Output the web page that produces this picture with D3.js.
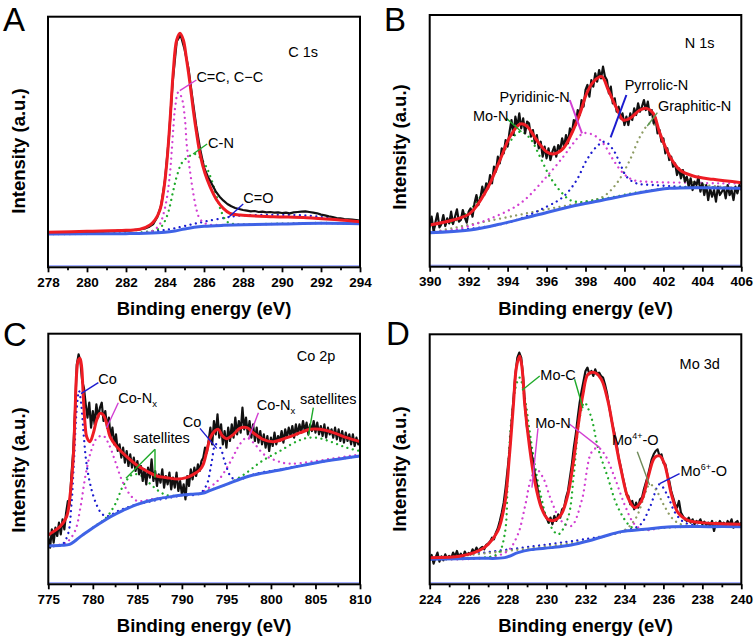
<!DOCTYPE html>
<html><head><meta charset="utf-8">
<script src="https://cdn.jsdelivr.net/npm/d3@7"></script>
<style>html,body{margin:0;padding:0;background:#fff}svg{display:block}</style>
</head><body>
<svg id="chart" width="756" height="642"></svg>
<script>
// ---------------- DATA ----------------
// Panel A : C 1s
const ticksA = [278,280,282,284,286,288,290,292,294];
const minorA = [279,281,283,285,287,289,291,293];
const rawA_start = 278, rawA_step = 0.2;
const rawA = [103,104,103,105,104,105,104,106,105,106,
106,107,106,108,107,108,109,108,110,109,
110,111,112,113,115,117,122,130,150,185,
262,390,560,678,697,655,598,510,425,355,
300,272,250,228,212,200,190,183,178,175,
172,170,168,169,166,167,165,166,164,165,
163,164,162,165,166,167,168,166,164,162,
158,156,153,151,148,147,145,144,143,142,140];
const fitA = [[278,105],[280,108],[282,111],[282.72,114],[283.23,127],[283.49,142],[283.74,172],[283.91,222],[284.09,312],[284.26,442],[284.43,592],[284.6,682],[284.77,702],[284.94,682],[285.11,622],[285.28,552],[285.45,472],[285.62,402],[285.79,342],[286.05,282],[286.31,242],[286.65,202],[286.99,177],[287.33,162],[287.85,157],[289.55,152],[291.27,149],[292.97,142],[294,137]];
const baseA = [[278,100],[282,101],[283,102],[284,105],[284.5,109],[285,115],[285.5,120],[286,123],[287,126],[288,128],[290,130],[292,132],[294,131]];
const compA_CC = [[278,100],[282,101],[283,104],[283.4,110],[283.74,130],[283.91,158],[284.09,205],[284.26,285],[284.34,345],[284.43,420],[284.51,475],[284.68,525],[284.85,510],[285.03,440],[285.11,370],[285.28,290],[285.45,222],[285.62,172],[285.79,145],[286.13,130],[287,127],[288,128],[290,130],[292,132],[294,131]];
const compA_CN = [[278,100],[282,102],[283,106],[283.74,118],[284.09,152],[284.43,232],[284.6,272],[284.85,312],[285.2,332],[285.54,340],[285.79,330],[286.13,300],[286.39,262],[286.65,212],[286.9,165],[287.16,138],[287.5,130],[288,129],[290,131],[292,133],[294,131]];
const compA_CO = [[278,100],[282,101],[282.7,103],[283.7,110],[284.4,116],[285.3,128],[286.1,138],[287.2,150],[287.8,155],[289.5,157],[291.3,155],[293,143],[294,137]];

// Panel B : N 1s
const ticksB = [390,392,394,396,398,400,402,404,406];
const minorB = [391,393,395,397,399,401,403,405];
const rawB_start = 390, rawB_step = 0.1;
const rawB = [120,150,105,135,160,118,128,155,122,145,130,
165,128,150,172,135,140,170,148,132,165,
175,150,190,215,185,205,240,215,250,235,
275,250,300,285,330,310,355,340,380,360,
405,440,395,450,420,460,415,445,400,435,
430,390,410,370,395,355,375,330,360,325,
355,320,345,360,330,365,350,385,360,395,
370,415,400,440,425,470,455,500,480,530,
545,510,560,540,580,555,590,565,600,570,
560,520,540,490,505,465,480,445,460,425,
450,425,460,440,475,455,490,465,480,500,
470,495,455,470,430,445,400,410,375,385,
340,355,320,330,300,310,275,295,265,290,
255,270,240,265,230,255,245,270,225,250,
215,245,200,235,210,230,195,240,215,225,
235,205,245,215,230,200,240,220,245,230];
const fitB = [[390,125],[391.2,140],[392.07,160],[392.92,230],[393.61,320],[394.12,390],[394.65,428],[394.98,422],[395.49,380],[396.0,345],[396.35,338],[396.86,355],[397.37,410],[397.72,460],[398.06,520],[398.41,555],[398.83,570],[399.17,530],[399.6,475],[399.94,440],[400.28,445],[400.8,470],[401.14,475],[401.48,460],[401.82,400],[402.34,330],[402.85,290],[403.53,272],[404.56,262],[406,252]];
const baseB = [[390,102],[392.07,110],[393.78,130],[395.49,155],[397.2,180],[398.91,200],[400.62,220],[402.33,235],[404.05,237],[406,235]];
const compB_MoN = [[390,118],[391.2,135],[392.07,170],[392.92,240],[393.6,320],[394.12,375],[394.65,405],[395.15,385],[395.66,330],[396.17,270],[396.69,228],[397.2,200],[397.72,194],[398.5,200],[399.5,210],[400.6,222],[402.3,236],[404,238],[406,236]];
const compB_Pyd = [[390,105],[391.21,110],[392.92,140],[394.65,190],[396.0,270],[396.86,330],[397.37,370],[397.89,400],[398.41,395],[398.91,370],[399.43,320],[399.94,280],[400.46,260],[401.48,254],[403.19,252],[404.9,250],[406,250]];
const compB_Pyr = [[390,102],[394,132],[396,180],[396.86,210],[397.55,260],[398.06,320],[398.57,360],[398.99,375],[399.43,350],[399.77,310],[400.11,270],[400.62,250],[401.48,245],[403,240],[406,236]];
const compB_Gra = [[390,102],[396,172],[398,195],[398.9,210],[399.6,250],[400.28,320],[400.8,390],[401.31,430],[401.65,420],[401.99,370],[402.5,310],[403.02,270],[403.7,250],[404.9,240],[406,236]];

// Panel C : Co 2p
const ticksC = [775,780,785,790,795,800,805,810];
const minorC = [777.5,782.5,787.5,792.5,797.5,802.5,807.5];
const rawC_start = 775, rawC_step = 0.2;
const rawC = [140,110,165,125,170,145,185,150,195,165,
215,250,240,330,400,520,660,690,670,610,
590,540,500,545,470,520,480,540,500,530,
545,490,520,470,500,440,470,420,450,400,
420,380,410,365,400,355,390,350,380,340,
370,330,355,310,345,300,350,320,375,310,
340,295,330,305,345,290,325,300,335,285,
320,290,335,280,310,270,300,255,325,295,
345,315,350,325,360,340,370,380,410,395,
430,470,420,490,450,510,440,480,420,460,
410,470,430,480,440,500,450,490,455,530,
465,500,450,490,440,480,430,470,425,460,
420,450,410,445,400,440,415,455,420,445,
430,460,425,465,440,470,445,475,440,480,
450,480,455,490,460,485,450,480,460,490,
455,485,450,475,445,480,440,470,450,465,
440,470,435,465,430,460,425,455,430,450,
420,450,415,440,420,435];
const fitC = [[775,148],[775.56,158],[776.31,173],[777.06,203],[777.43,263],[777.81,383],[778.0,513],[778.18,633],[778.37,673],[778.56,678],[778.74,653],[778.93,563],[779.12,483],[779.31,443],[779.68,428],[780.05,453],[780.43,493],[780.8,513],[781.18,508],[781.55,483],[781.93,443],[782.67,413],[783.8,383],[784.92,358],[786.04,340],[787.17,325],[788.3,320],[789.5,316],[790.5,320],[791.3,330],[792.0,343],[792.4,360],[792.8,400],[793.2,440],[793.7,460],[794.1,465],[794.5,447],[795.0,437],[795.8,450],[796.5,468],[797.3,470],[798.0,455],[799.1,435],[800.3,428],[801.8,440],[803.3,455],[804.4,465],[805.5,465],[807.0,455],[808.5,440],[810,428]];
const baseC = [[775,115],[776.5,117],[777.4,120],[778.0,130],[778.6,143],[779.5,160],[780.8,183],[782,203],[783.4,222],[785,240],[787.2,256],[789,264],[791,270],[792.3,273],[793.2,282],[795,300],[797.6,325],[801.4,345],[805.1,365],[810,385]];
const compC_Co1 = [[775,115],[776.5,118],[777.2,150],[777.6,240],[777.9,380],[778.2,530],[778.45,580],[778.7,540],[779.0,440],[779.3,360],[779.8,290],[780.4,240],[781.0,212],[781.6,204],[783,222],[785,240],[790,267]];
const compC_CoN1 = [[775,115],[777,125],[778,160],[778.6,230],[779.2,330],[779.8,400],[780.5,440],[781.2,445],[781.8,420],[782.5,370],[783.3,310],[784.2,268],[785,250],[786,252],[787,257],[790,267]];
const compC_Sat1 = [[778,131],[780,170],[781.5,200],[782.5,240],[783.5,300],[784.5,330],[785.5,325],[786.5,300],[787.5,278],[788.5,266],[790,268]];
const compC_Co2 = [[790,267],[792,272],[792.8,300],[793.3,360],[793.8,420],[794.3,410],[794.9,360],[795.6,320],[796.5,315],[797.5,325],[799,336],[801,344],[805,365],[810,385]];
const compC_CoN2 = [[792,272],[794,310],[795.5,370],[796.5,420],[797.3,440],[798.2,420],[799.2,390],[800.5,372],[802,362],[805,370],[810,390]];
const compC_Sat2 = [[793,282],[795,300],[797,330],[799,370],[801,400],[803,430],[804.3,440],[805.5,438],[807,425],[808.5,410],[810,400]];

// Panel D : Mo 3d
const ticksD = [224,226,228,230,232,234,236,238,240];
const minorD = [225,227,229,231,233,235,237,239];
const rawD_start = 224, rawD_step = 0.1;
const rawD = [70,88,62,80,95,68,84,72,90,76,85,
78,95,84,100,82,92,78,98,88,94,
90,105,95,110,100,108,112,105,118,122,
128,140,135,155,168,190,215,245,290,345,
400,480,555,630,680,695,680,620,530,470,
440,400,370,330,300,265,240,225,210,200,
185,200,180,205,190,210,200,225,230,260,
280,320,360,410,450,500,545,580,610,640,
650,630,640,625,645,630,635,625,620,600,
575,540,505,475,450,420,380,355,325,300,
270,265,240,250,225,245,230,255,260,285,
305,325,350,375,390,400,405,385,390,365,
360,330,310,280,260,240,230,250,215,205,
195,190,200,185,195,180,190,185,195,180,
188,178,185,175,190,160,185,178,190,180,
185,175,190,180,195,170,185,190,175,185];
const fitD = [[224,80],[225.6,85],[226.5,100],[227,120],[227.5,160],[227.85,240],[228.1,390],[228.3,540],[228.45,650],[228.62,685],[228.74,650],[228.88,540],[229.13,410],[229.39,310],[229.73,230],[230.07,195],[230.42,192],[230.76,210],[231.1,270],[231.36,360],[231.61,470],[231.87,570],[232.13,630],[232.47,635],[232.81,615],[233.15,550],[233.5,440],[233.84,340],[234.18,260],[234.52,230],[234.87,250],[235.21,320],[235.55,380],[235.81,385],[236.06,360],[236.41,270],[236.75,215],[237.26,192],[237.95,185],[238.97,182],[240,180]];
const baseD = [[224,75],[226.5,78],[227.85,80],[228.53,95],[229.2,104],[230.25,110],[231.27,118],[232.13,130],[233,145],[233.84,158],[235.04,165],[236.23,172],[238.46,173],[240,173]];
const compD_MoC = [[224,75],[226.5,79],[227.5,92],[227.85,150],[228.02,340],[228.19,490],[228.45,600],[228.62,620],[228.88,560],[229.13,460],[229.39,360],[229.73,260],[230.07,190],[230.59,150],[231.1,200],[231.4,330],[231.7,500],[231.95,545],[232.3,500],[232.64,410],[233.15,320],[233.67,230],[234.35,172],[235,165],[236,170],[238,173],[240,173]];
const compD_MoN = [[224,75],[227,80],[228,100],[228.53,150],[228.88,230],[229.22,320],[229.48,345],[229.82,320],[230.25,250],[230.76,190],[231.27,175],[231.8,250],[232.3,395],[232.64,410],[232.98,390],[233.5,320],[234.0,240],[234.52,180],[235.04,163],[236,170],[238,173],[240,173]];
const compD_Mo4 = [[224,75],[232,130],[233,145],[234,162],[234.6,200],[235.0,262],[235.3,300],[235.6,285],[236.0,240],[236.5,195],[237,178],[238,173],[240,173]];
const compD_Mo6 = [[224,75],[233,145],[234,160],[234.8,178],[235.3,230],[235.8,300],[236.2,268],[236.6,215],[237.1,185],[238,175],[240,174]];

// Labels
const labelsA = ['C 1s','C=C, C\u2212C','C-N','C=O'];
const labelsB = ['N 1s','Mo-N','Pyridinic-N','Pyrrolic-N','Graphitic-N'];
const labelsC = ['Co 2p','Co','Co-N','satellites'];
const labelsD = ['Mo 3d','Mo-C','Mo-N','Mo'];
const xTitle = 'Binding energy (eV)';
const yTitle = 'Intensity (a.u.)';

// ---------------- STYLE ----------------
const FONT = "'Liberation Sans', Arial, Helvetica, sans-serif";
const RED = '#ee1c24', BLACK = '#111', BASE = '#3f63e6';
const PINK = '#d23fd2', GREEN = '#1faa2a', BLUED = '#1c1ccf', OLIVE = '#8e9c64';

const svg = d3.select('#chart');

const panels = [
 {letter:'A', lx:3, ly:31, box:[48,360,16.7,267.3], dom:[278,294], ymax:752, ticks:ticksA, minor:minorA, ytc:151,
  raw:{s:rawA_start, st:rawA_step, v:rawA}, fit:fitA, base:baseA,
  comps:[{d:compA_CO,c:BLUED},{d:compA_CN,c:GREEN},{d:compA_CC,c:PINK}],
  notes:[{t:labelsA[0], at:[290.32,647]},
         {t:labelsA[1], at:[285.61,570], c:PINK, ln:[[[284.76,530],[285.61,562]]]},
         {t:labelsA[2], at:[286.21,372], c:GREEN, ln:[[[285.44,340],[286.16,370]]]},
         {t:labelsA[3], at:[288.01,207], c:BLUED, ln:[[[287.29,152],[288.01,190]]]}]},
 {letter:'B', lx:384, ly:31, box:[429.7,741.3,15,266.7], dom:[390,406], ymax:755, ticks:ticksB, minor:minorB, ytc:147,
  raw:{s:rawB_start, st:rawB_step, v:rawB}, fit:fitB, base:baseB,
  comps:[{d:compB_Gra,c:OLIVE},{d:compB_Pyr,c:BLUED},{d:compB_Pyd,c:PINK},{d:compB_MoN,c:GREEN}],
  notes:[{t:labelsB[0], at:[403.09,670]},
         {t:labelsB[1], at:[392.22,453], c:GREEN, ln:[[[393.94,445],[394.71,405]]]},
         {t:labelsB[2], at:[393.59,510], c:PINK, w:2, ln:[[[397.19,500],[397.82,400]]]},
         {t:labelsB[3], at:[400.01,545], c:BLUED, w:2, ln:[[[400.1,515],[399.29,388]]]},
         {t:labelsB[4], at:[401.72,482], c:'#5f9a55', ln:[[[401.69,462],[401.17,422]]]}]},
 {letter:'C', lx:3, ly:346, box:[48.3,360,333.7,584.3], dom:[775,810], ymax:752, ticks:ticksC, minor:minorC, ytc:470,
  raw:{s:rawC_start, st:rawC_step, v:rawC}, fit:fitC, base:baseC,
  comps:[{d:compC_Sat1,c:GREEN},{d:compC_Sat2,c:GREEN},{d:compC_CoN1,c:PINK},{d:compC_CoN2,c:PINK},{d:compC_Co1,c:BLUED},{d:compC_Co2,c:BLUED}],
  notes:[{t:labelsC[0], at:[802.89,685]},
         {t:labelsC[1], at:[780.62,615], c:BLUED, ln:[[[780.62,605],[778.67,572]]]},
         {t:labelsC[2], sub:'x', at:[782.86,558], c:PINK, ln:[[[782.86,545],[781.55,470]]]},
         {t:labelsC[3], at:[784.55,440], c:GREEN, ln:[[[786.98,405],[783.72,318]],[[786.98,405],[786.98,320]]]},
         {t:labelsC[1], at:[790.09,488], c:BLUED, ln:[[[792.03,468],[793.91,408]]]},
         {t:labelsC[2], sub:'x', at:[798.4,538], c:PINK, ln:[[[798.59,515],[797.46,435]]]},
         {t:labelsC[3], at:[803.27,555], c:GREEN, ln:[[[804.76,530],[804.2,445]]]}]},
 {letter:'D', lx:386, ly:345, box:[429.7,741.3,334.3,584.3], dom:[224,240], ymax:750, ticks:ticksD, minor:minorD, ytc:469,
  raw:{s:rawD_start, st:rawD_step, v:rawD}, fit:fitD, base:baseD,
  comps:[{d:compD_Mo6,c:BLUED},{d:compD_Mo4,c:OLIVE},{d:compD_MoN,c:PINK},{d:compD_MoC,c:GREEN}],
  notes:[{t:labelsD[0], at:[236.83,660]},
         {t:labelsD[1], at:[229.68,628], c:GREEN, ln:[[[229.65,625],[228.74,582]],[[231.44,615],[231.87,528]]]},
         {t:labelsD[2], at:[229.42,483], c:PINK, ln:[[[229.56,468],[229.25,290]],[[231.19,480],[232.73,410]]]},
         {t:labelsD[3], sup:'4+', after:'-O', at:[233.36,433], c:'#6f8a5a', ln:[[[234.66,398],[235.29,298]]]},
         {t:labelsD[3], sup:'6+', after:'-O', at:[236.88,340], c:BLUED, ln:[[[236.83,332],[235.81,302]]]}]}
];

panels.forEach((p,i)=>{
  const [L,R,T,B] = p.box;
  const x = d3.scaleLinear().domain(p.dom).range([L,R]);
  const y = d3.scaleLinear().domain([0,p.ymax]).range([B,T]);
  const g = svg.append('g');
  const clipId = 'clip'+i;
  svg.append('clipPath').attr('id',clipId).append('rect').attr('x',L).attr('y',T).attr('width',R-L).attr('height',B-T);
  const plot = g.append('g').attr('clip-path',`url(#${clipId})`);
  const smooth = d3.line().x(d=>x(d[0])).y(d=>y(d[1])).curve(d3.curveCatmullRom.alpha(0.5));
  const lin = d3.line().x(d=>x(d[0])).y(d=>y(d[1]));

  plot.append('line').attr('x1',L).attr('x2',R).attr('y1',B-1.5).attr('y2',B-1.5).attr('stroke','#7d8cff').attr('stroke-width',1);

  p.comps.forEach(c=>{
    plot.append('path').attr('d',smooth(c.d)).attr('fill','none').attr('stroke',c.c)
      .attr('stroke-width',2.3).attr('stroke-linecap','round').attr('stroke-dasharray','0.01 5.5');
  });
  const rawPts = p.raw.v.map((v,k)=>[p.raw.s + k*p.raw.st, v]);
  plot.append('path').attr('d',lin(rawPts)).attr('fill','none').attr('stroke',BLACK).attr('stroke-width',2.2).attr('stroke-linejoin','round');
  plot.append('path').attr('d',smooth(p.base)).attr('fill','none').attr('stroke',BASE).attr('stroke-width',3);
  plot.append('path').attr('d',smooth(p.fit)).attr('fill','none').attr('stroke',RED).attr('stroke-width',3);

  g.append('rect').attr('x',L).attr('y',T).attr('width',R-L).attr('height',B-T).attr('fill','none').attr('stroke','#000').attr('stroke-width',2);

  const ax = g.append('g').attr('transform',`translate(0,${B})`)
    .call(d3.axisBottom(x).tickValues(p.ticks).tickSize(5).tickPadding(5).tickFormat(d3.format('d')));
  ax.select('.domain').remove();
  ax.selectAll('line').attr('stroke','#000').attr('stroke-width',1.8);
  ax.selectAll('text').attr('font-family',FONT).attr('font-size',13.5).attr('font-weight','bold').attr('fill','#000')
    .attr('dy',null).attr('y',19.5);
  const mx = g.append('g').attr('transform',`translate(0,${B})`)
    .call(d3.axisBottom(x).tickValues(p.minor).tickSize(3).tickFormat(''));
  mx.select('.domain').remove();
  mx.selectAll('line').attr('stroke','#000').attr('stroke-width',1.8);

  g.append('text').attr('x',(L+R)/2).attr('y',B+48).attr('text-anchor','middle')
    .attr('font-family',FONT).attr('font-size',18.5).attr('font-weight','bold').text(xTitle);
  g.append('text').attr('transform',`translate(${L-23.5},${p.ytc}) rotate(-90)`).attr('text-anchor','middle')
    .attr('font-family',FONT).attr('font-size',18.5).attr('font-weight','bold').text(yTitle);
  g.append('text').attr('x',p.lx).attr('y',p.ly).attr('font-family',FONT).attr('font-size',33).text(p.letter);

  p.notes.forEach(n=>{
    (n.ln||[]).forEach(seg=>{
      g.append('line').attr('x1',x(seg[0][0])).attr('y1',y(seg[0][1])).attr('x2',x(seg[1][0])).attr('y2',y(seg[1][1]))
        .attr('stroke',n.c).attr('stroke-width',n.w||1.4);
    });
    const t = g.append('text').attr('x',x(n.at[0])).attr('y',y(n.at[1])+5)
      .attr('font-family',FONT).attr('font-size',14.5).attr('fill','#000');
    t.append('tspan').text(n.t);
    if(n.sub){ t.append('tspan').attr('dy',4).attr('font-size',9.5).text(n.sub); }
    if(n.sup){ t.append('tspan').attr('dy',-6).attr('font-size',9).text(n.sup);
               t.append('tspan').attr('dy',6).text(n.after); }
  });
});
</script>
</body></html>
